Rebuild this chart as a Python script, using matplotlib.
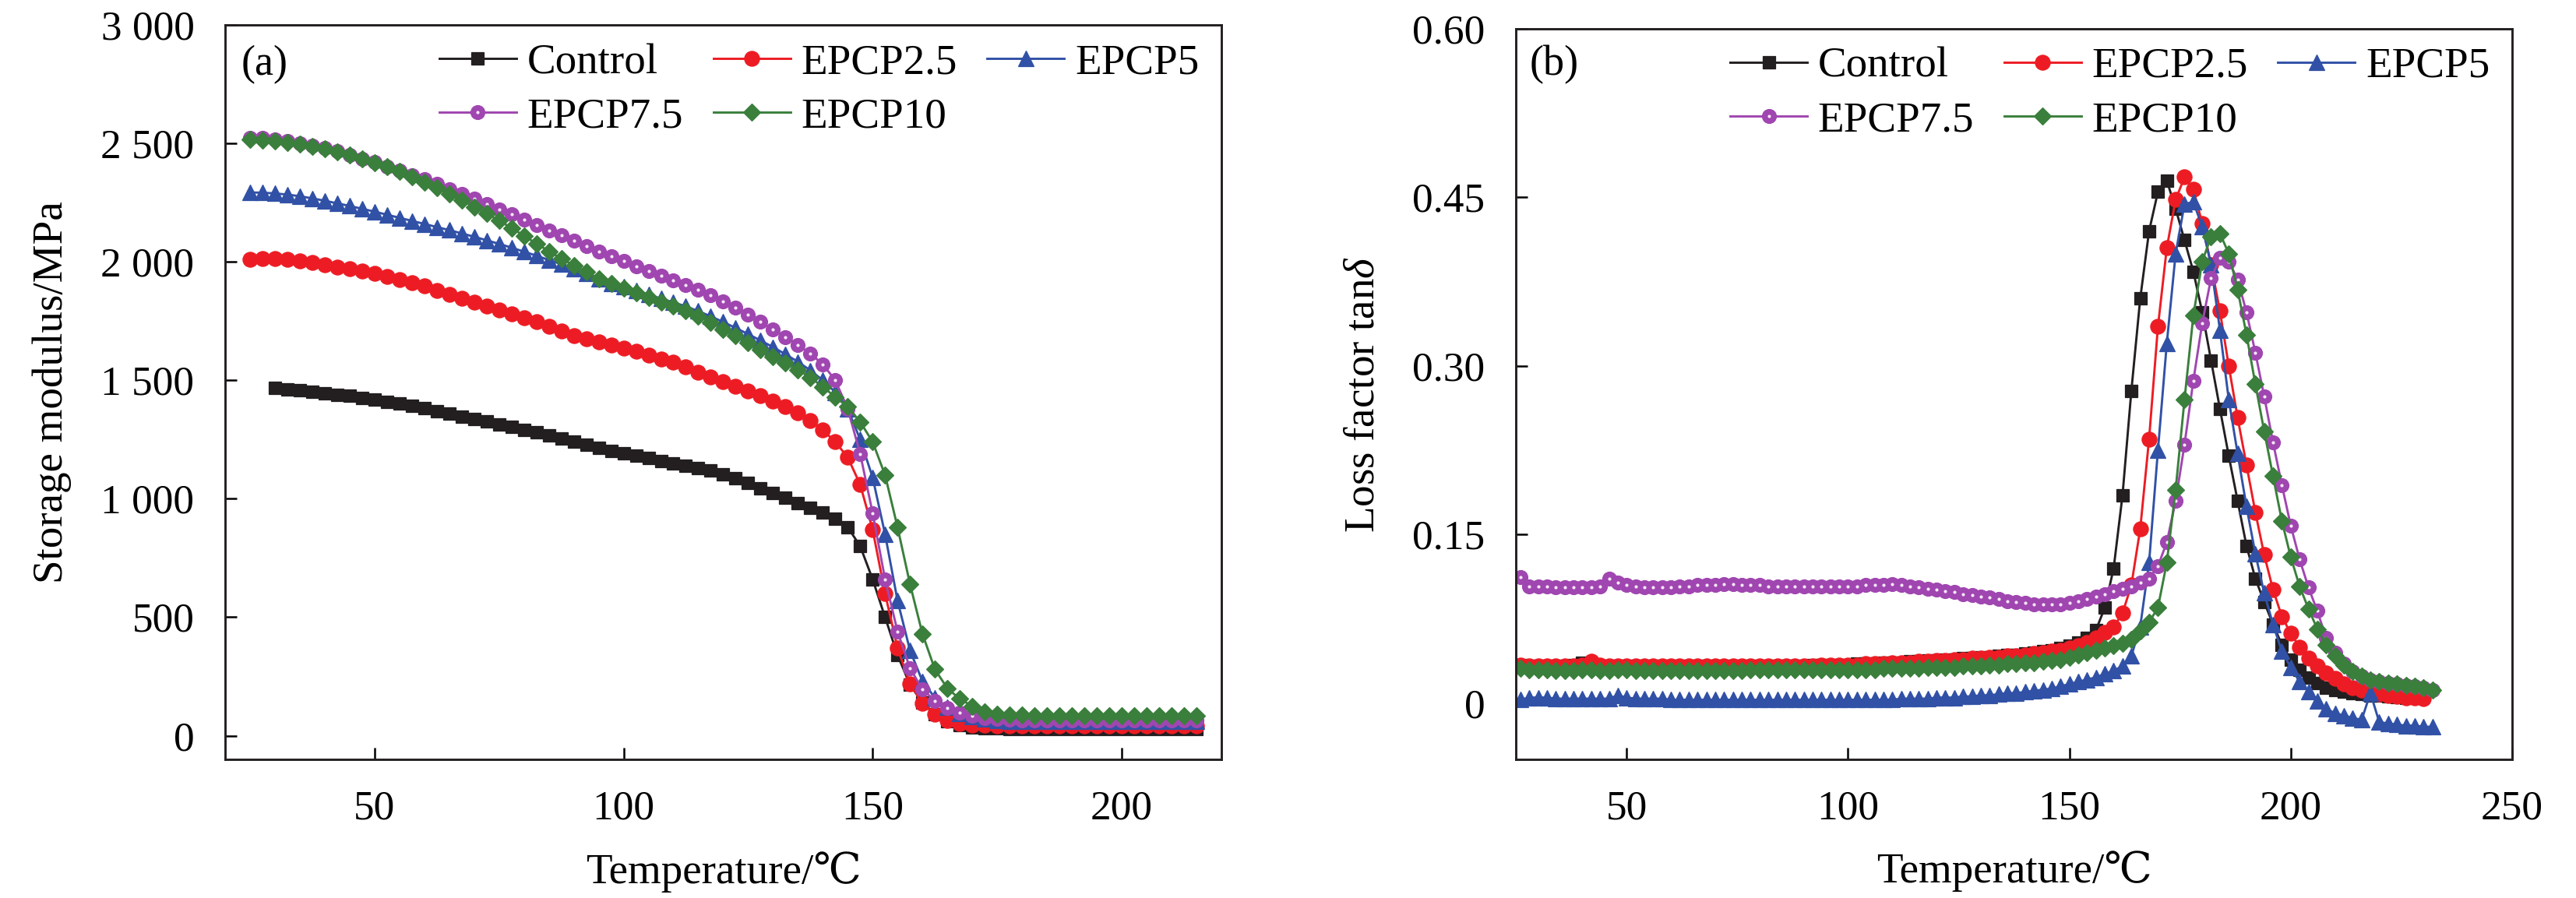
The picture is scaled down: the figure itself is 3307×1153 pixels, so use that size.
import matplotlib.pyplot as plt

plt.rcParams['font.family'] = ['Liberation Serif', 'DejaVu Serif']
plt.rcParams['mathtext.fontset'] = 'custom'
plt.rcParams['mathtext.rm'] = 'Liberation Serif'
plt.rcParams['mathtext.it'] = 'Liberation Serif:italic'

labels = ['Control', 'EPCP2.5', 'EPCP5', 'EPCP7.5', 'EPCP10']

# (a) storage modulus, MPa
temp_a = [25, 27.5, 30, 32.5, 35, 37.5, 40, 42.5, 45, 47.5,
          50, 52.5, 55, 57.5, 60, 62.5, 65, 67.5, 70, 72.5,
          75, 77.5, 80, 82.5, 85, 87.5, 90, 92.5, 95, 97.5,
          100, 102.5, 105, 107.5, 110, 112.5, 115, 117.5, 120, 122.5,
          125, 127.5, 130, 132.5, 135, 137.5, 140, 142.5, 145, 147.5,
          150, 152.5, 155, 157.5, 160, 162.5, 165, 167.5, 170, 172.5,
          175, 177.5, 180, 182.5, 185, 187.5, 190, 192.5, 195, 197.5,
          200, 202.5, 205, 207.5, 210, 212.5, 215]

# control starts at 30 C
sm_control = [1469, 1463, 1458, 1452, 1446, 1440, 1434, 1427, 1419, 1410,
              1401, 1392, 1382, 1370, 1359, 1348, 1337, 1326, 1314, 1303,
              1292, 1281, 1269, 1255, 1241, 1228, 1215, 1203, 1193, 1182,
              1171, 1160, 1149, 1138, 1131, 1119, 1104, 1086, 1066, 1045,
              1025, 1004, 983, 963, 942, 915, 880, 800, 660, 500,
              340, 215, 140, 92, 62, 45, 36, 32, 30, 29,
              28, 28, 28, 28, 28, 28, 28, 28, 28, 28,
              28, 28, 28, 28, 28]
sm_epcp25 = [2010, 2014, 2013, 2009, 2003, 1996, 1988, 1979, 1970, 1960,
             1950, 1938, 1925, 1912, 1898, 1880, 1862, 1845, 1829, 1813,
             1798, 1781, 1763, 1746, 1728, 1709, 1690, 1676, 1663, 1650,
             1637, 1622, 1606, 1591, 1575, 1557, 1535, 1515, 1494, 1475,
             1456, 1434, 1412, 1388, 1363, 1330, 1290, 1240, 1175, 1060,
             870, 600, 370, 220, 135, 90, 65, 52, 46, 43,
             42, 42, 42, 42, 42, 42, 42, 42, 42, 42,
             42, 42, 42, 42, 42, 42, 42]
sm_epcp5 = [2293, 2292, 2289, 2284, 2277, 2268, 2258, 2247, 2236, 2224,
            2212, 2199, 2186, 2173, 2160, 2147, 2134, 2120, 2106, 2091,
            2076, 2060, 2043, 2026, 2008, 1990, 1970, 1950, 1930, 1910,
            1895, 1878, 1862, 1845, 1829, 1812, 1792, 1770, 1746, 1721,
            1695, 1668, 1640, 1610, 1578, 1542, 1500, 1450, 1380, 1250,
            1090, 850, 570, 360, 230, 160, 120, 95, 80, 70,
            65, 62, 60, 60, 60, 60, 60, 60, 60, 60,
            60, 60, 60, 60, 60, 60, 60]
sm_epcp75 = [2525, 2522, 2517, 2510, 2502, 2492, 2480, 2467, 2452, 2436,
             2420, 2403, 2385, 2367, 2348, 2328, 2307, 2287, 2266, 2244,
             2222, 2200, 2177, 2155, 2133, 2111, 2089, 2066, 2045, 2024,
             2003, 1982, 1962, 1942, 1922, 1903, 1883, 1860, 1834, 1806,
             1776, 1746, 1715, 1683, 1650, 1612, 1568, 1500, 1380, 1190,
             940, 660, 440, 285, 195, 148, 118, 98, 84, 75,
             70, 67, 65, 65, 65, 65, 65, 65, 65, 65,
             65, 65, 65, 65, 65, 65, 65]
sm_epcp10 = [2518, 2515, 2510, 2504, 2496, 2487, 2476, 2463, 2450, 2435,
             2419, 2401, 2381, 2360, 2337, 2312, 2286, 2259, 2232, 2203,
             2174, 2143, 2110, 2077, 2045, 2014, 1985, 1957, 1930, 1908,
             1889, 1870, 1850, 1831, 1813, 1795, 1771, 1745, 1716, 1687,
             1658, 1630, 1601, 1573, 1545, 1512, 1472, 1430, 1388, 1325,
             1240, 1100, 880, 640, 430, 280, 200, 155, 125, 100,
             92, 88, 86, 85, 85, 85, 85, 85, 85, 85,
             85, 85, 85, 85, 85, 85, 85]

# (b) loss factor tan delta
temp_b = [26, 28, 30, 32, 34, 36, 38, 40, 42, 44,
          46, 48, 50, 52, 54, 56, 58, 60, 62, 64,
          66, 68, 70, 72, 74, 76, 78, 80, 82, 84,
          86, 88, 90, 92, 94, 96, 98, 100, 102, 104,
          106, 108, 110, 112, 114, 116, 118, 120, 122, 124,
          126, 128, 130, 132, 134, 136, 138, 140, 142, 144,
          146, 148, 150, 152, 154, 156, 158, 160, 162, 164,
          166, 168, 170, 172, 174, 176, 178, 180, 182, 184,
          186, 188, 190, 192, 194, 196, 198, 200, 202, 204,
          206, 208, 210, 212, 214, 216, 218, 220, 222, 224,
          226, 228, 230, 232]

tan_control = [0.034, 0.033, 0.033, 0.033, 0.033, 0.033, 0.034, 0.036, 0.034, 0.033,
               0.033, 0.033, 0.033, 0.033, 0.033, 0.033, 0.033, 0.033, 0.033, 0.033,
               0.033, 0.033, 0.033, 0.033, 0.033, 0.033, 0.033, 0.033, 0.033, 0.033,
               0.033, 0.033, 0.033, 0.034, 0.034, 0.034, 0.034, 0.034, 0.035, 0.035,
               0.035, 0.036, 0.036, 0.036, 0.037, 0.037, 0.038, 0.038, 0.039, 0.039,
               0.040, 0.040, 0.041, 0.041, 0.042, 0.043, 0.043, 0.044, 0.045, 0.046,
               0.047, 0.049, 0.051, 0.054, 0.058, 0.065, 0.085, 0.120, 0.185, 0.278,
               0.360, 0.420, 0.455, 0.465, 0.440, 0.412, 0.384, 0.348, 0.305, 0.262,
               0.220, 0.180, 0.140, 0.111, 0.090, 0.070, 0.052, 0.039, 0.030, 0.023,
               0.018, 0.014, 0.012, 0.010, 0.009, 0.008, 0.007, 0.0065, 0.006, 0.0055,
               0.005]
tan_epcp25 = [0.034, 0.033, 0.033, 0.033, 0.033, 0.033, 0.033, 0.034, 0.037, 0.034,
              0.033, 0.033, 0.033, 0.033, 0.033, 0.033, 0.033, 0.033, 0.033, 0.033,
              0.033, 0.033, 0.033, 0.033, 0.033, 0.033, 0.033, 0.033, 0.033, 0.033,
              0.033, 0.033, 0.033, 0.033, 0.034, 0.034, 0.034, 0.034, 0.034, 0.035,
              0.035, 0.035, 0.036, 0.036, 0.036, 0.037, 0.037, 0.038, 0.038, 0.039,
              0.039, 0.040, 0.040, 0.041, 0.041, 0.042, 0.042, 0.043, 0.044, 0.045,
              0.046, 0.047, 0.049, 0.051, 0.054, 0.058, 0.063, 0.068, 0.080, 0.105,
              0.155, 0.235, 0.335, 0.405, 0.448, 0.468, 0.457, 0.427, 0.390, 0.349,
              0.300, 0.254, 0.212, 0.170, 0.132, 0.101, 0.077, 0.062, 0.050, 0.040,
              0.033, 0.027, 0.022, 0.0175, 0.014, 0.012, 0.010, 0.0083, 0.007, 0.0058,
              0.005, 0.0045, 0.0042]
tan_epcp5 = [0.003, 0.005, 0.005, 0.005, 0.004, 0.004, 0.004, 0.004, 0.004, 0.004,
             0.004, 0.007, 0.005, 0.004, 0.004, 0.004, 0.004, 0.003, 0.003, 0.003,
             0.003, 0.003, 0.003, 0.003, 0.003, 0.003, 0.003, 0.003, 0.003, 0.003,
             0.003, 0.003, 0.003, 0.003, 0.003, 0.003, 0.003, 0.003, 0.003, 0.003,
             0.003, 0.003, 0.003, 0.004, 0.004, 0.004, 0.004, 0.005, 0.005, 0.005,
             0.006, 0.006, 0.007, 0.007, 0.008, 0.009, 0.009, 0.010, 0.011, 0.012,
             0.013, 0.015, 0.017, 0.019, 0.021, 0.023, 0.026, 0.029, 0.033, 0.042,
             0.068, 0.125, 0.225, 0.320, 0.400, 0.444, 0.446, 0.424, 0.390, 0.332,
             0.270, 0.222, 0.175, 0.133, 0.098, 0.070, 0.046, 0.032, 0.019, 0.010,
             0.002, -0.005, -0.009, -0.011, -0.013, -0.015, 0.009, -0.017, -0.018, -0.019,
             -0.020, -0.020, -0.021, -0.021]
tan_epcp75 = [0.112, 0.104, 0.104, 0.104, 0.103, 0.103, 0.103, 0.103, 0.103, 0.104,
              0.111, 0.107, 0.105, 0.104, 0.103, 0.103, 0.103, 0.103, 0.104, 0.104,
              0.105, 0.105, 0.105, 0.106, 0.106, 0.105, 0.105, 0.105, 0.104, 0.104,
              0.104, 0.104, 0.104, 0.104, 0.104, 0.104, 0.104, 0.104, 0.104, 0.105,
              0.105, 0.105, 0.106, 0.105, 0.104, 0.103, 0.102, 0.101, 0.100, 0.099,
              0.097, 0.096, 0.095, 0.094, 0.093, 0.091, 0.090, 0.089, 0.088, 0.088,
              0.088, 0.088, 0.089, 0.091, 0.093, 0.095, 0.097, 0.100, 0.102, 0.104,
              0.107, 0.111, 0.122, 0.143, 0.180, 0.230, 0.287, 0.338, 0.378, 0.396,
              0.393, 0.377, 0.348, 0.312, 0.273, 0.232, 0.194, 0.158, 0.128, 0.103,
              0.082, 0.058, 0.045, 0.035, 0.028, 0.024, 0.021, 0.019, 0.018, 0.017,
              0.016, 0.015, 0.014, 0.012]
tan_epcp10 = [0.031, 0.030, 0.030, 0.030, 0.029, 0.029, 0.029, 0.030, 0.030, 0.029,
              0.029, 0.030, 0.030, 0.029, 0.029, 0.029, 0.029, 0.029, 0.029, 0.029,
              0.029, 0.029, 0.029, 0.029, 0.029, 0.029, 0.030, 0.030, 0.030, 0.030,
              0.030, 0.030, 0.030, 0.030, 0.030, 0.030, 0.030, 0.030, 0.030, 0.030,
              0.030, 0.031, 0.031, 0.031, 0.031, 0.031, 0.032, 0.032, 0.032, 0.032,
              0.033, 0.033, 0.033, 0.034, 0.034, 0.035, 0.035, 0.036, 0.036, 0.037,
              0.038, 0.039, 0.041, 0.043, 0.045, 0.047, 0.049, 0.051, 0.053, 0.057,
              0.064, 0.072, 0.085, 0.125, 0.190, 0.270, 0.345, 0.393, 0.415, 0.418,
              0.400, 0.368, 0.328, 0.284, 0.242, 0.202, 0.162, 0.130, 0.104, 0.084,
              0.066, 0.052, 0.042, 0.034, 0.028, 0.024, 0.021, 0.019, 0.018, 0.017,
              0.016, 0.015, 0.014, 0.012]

colors = ['#231f20', '#ed1c24', '#3151a6', '#a046b0', '#3a7f3c']
markers = ['s', 'o', '^', 'o', 'D']
msizes = [4.0, 4.6, 4.6, 4.3, 3.9]

fs_tick = 12.8
fs_leg = 13.2
fs_lab = 13.2
fig = plt.figure(figsize=(3307 / 300, 1153 / 300), dpi=300)
ax1 = fig.add_axes([0.0874, 0.1544, 0.3867, 0.8178])
ax2 = fig.add_axes([0.5885, 0.1544, 0.3867, 0.8135])


def draw(ax, xs, series):
    handles = []
    for i, (x, y) in enumerate(zip(xs, series)):
        ln, = ax.plot(x, y, color=colors[i], marker=markers[i], ms=msizes[i],
                      mec=colors[i], mew=0.3, lw=0.7, label=labels[i])
        if i == 3:
            # sphere-like highlight on the purple markers
            hi, = ax.plot(x, y, ls='none', marker='o', ms=1.0,
                          color='#f6e8f8', mew=0)
            handles.append((ln, hi))
        else:
            handles.append(ln)
    # column-major fill: row 1 = Control, EPCP2.5, EPCP5
    order = [0, 3, 1, 4, 2]
    ax.legend([handles[k] for k in order], [labels[k] for k in order],
              ncol=3, loc='upper left', bbox_to_anchor=(0.215, 0.975),
              frameon=False, fontsize=fs_leg, borderpad=0, borderaxespad=0,
              handlelength=1.8, handletextpad=0.25, columnspacing=0.7,
              labelspacing=0.34)


draw(ax1, [temp_a[2:], temp_a, temp_a, temp_a, temp_a],
     [sm_control, sm_epcp25, sm_epcp5, sm_epcp75, sm_epcp10])
draw(ax2, [temp_b[:len(tan_control)], temp_b[:len(tan_epcp25)], temp_b,
           temp_b, temp_b],
     [tan_control, tan_epcp25, tan_epcp5, tan_epcp75, tan_epcp10])

ax1.set_xlim(20, 220)
ax1.set_ylim(-100, 3000)
ax1.set_xticks([50, 100, 150, 200])
ax1.set_yticks([0, 500, 1000, 1500, 2000, 2500, 3000])
ax1.set_yticklabels(['0', '500', '1 000', '1 500', '2 000', '2 500', '3 000'])
ax1.set_ylabel('Storage modulus/MPa', fontsize=fs_lab, labelpad=9)
ax1.text(0.0164, 0.946, '(a)', transform=ax1.transAxes, ha='left',
         va='center', fontsize=13)

ax2.set_xlim(25, 250)
ax2.set_ylim(-0.05, 0.60)
ax2.set_xticks([50, 100, 150, 200, 250])
ax2.set_yticks([0, 0.15, 0.30, 0.45, 0.60])
ax2.set_yticklabels(['0', '0.15', '0.30', '0.45', '0.60'])
ax2.set_ylabel('Loss factor tan$\\mathit{\\delta}$', fontsize=fs_lab, labelpad=9)
ax2.text(0.014, 0.951, '(b)', transform=ax2.transAxes, ha='left',
         va='center', fontsize=13)

for ax in (ax1, ax2):
    ax.set_xlabel('Temperature/\u2103', fontsize=fs_lab)
    ax.xaxis.set_label_coords(0.5, -0.125)
    ax.tick_params(direction='in', length=3.6, width=0.6, pad=9.5,
                   labelsize=fs_tick, top=False, right=False)
    for sp in ax.spines.values():
        sp.set_linewidth(0.7)
        sp.set_color('#231f20')

fig.savefig('out.png', dpi=300)
